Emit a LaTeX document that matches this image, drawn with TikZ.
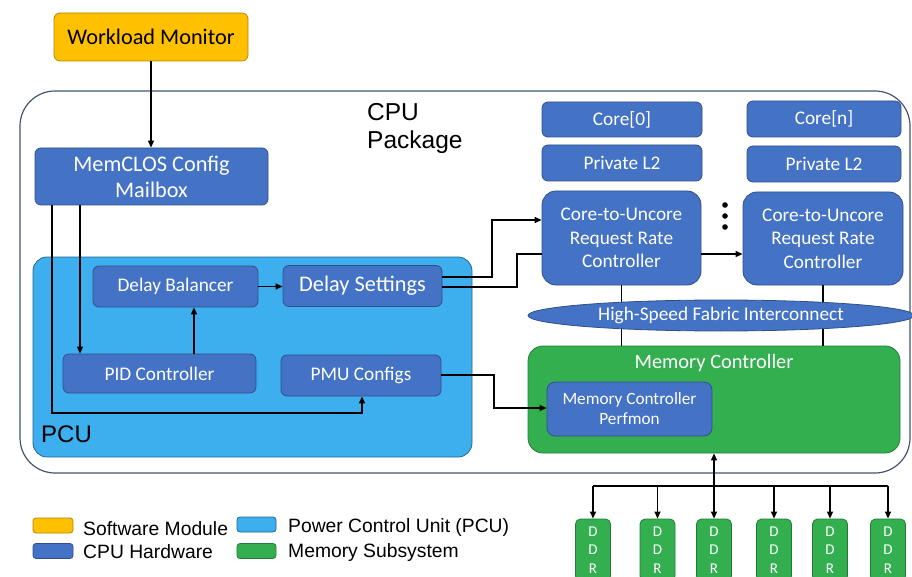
\documentclass[tikz,border=0pt]{standalone}
\usepackage{fontspec}
\setmainfont{Carlito}
\newfontfamily\arialfont{Liberation Sans}
\usetikzlibrary{arrows.meta,shapes.geometric}

\definecolor{logiciel}{HTML}{FFC000}
\definecolor{materiel}{HTML}{4472C4}
\definecolor{bleuclair}{HTML}{3DAEEE}
\definecolor{memoire}{HTML}{33AF50}
\definecolor{cadre}{HTML}{44546A}

\tikzset{bloc/.style={draw=#1!70!black,fill=#1,text=white,rounded corners=6pt,inner sep=0pt,line width=0.8pt},bloc/.default={materiel}}
\tikzset{fleche/.style={line width=1.3pt,-{Triangle[length=7pt,width=6pt]}}}
\tikzset{trait/.style={line width=1.3pt}}

\begin{document}
\begin{tikzpicture}[x=1pt,y=-1pt,
grand/.style={font=\fontsize{22.3}{26}\selectfont},
moyen/.style={font=\fontsize{19.3}{23.5}\selectfont},
legende/.style={anchor=base west,inner sep=0pt,font=\arialfont\fontsize{19.3}{24}\selectfont}]
\useasboundingbox (0,0) rectangle (912,577);

% boitier CPU
\node [draw=cadre,line width=1.2pt,rounded corners=35pt,minimum width=890,minimum height=382] (package) at (465,282) {};
\node [anchor=north west,inner sep=0pt,align=left,font=\arialfont\fontsize{24.5}{28}\selectfont] (titre) at (367,103) {CPU\\Package};

\node [bloc=logiciel,text=black,grand,minimum width=194,minimum height=48] (moniteur) at (151,37) {Workload Monitor};
\node [bloc,grand,align=center,minimum width=233,minimum height=57] (mailbox) at (151.5,176.5) {MemCLOS Config\\Mailbox};

% PCU
\node [draw=bleuclair!60!black,fill=bleuclair,line width=0.8pt,rounded corners=14pt,minimum width=439,minimum height=200] (pcu) at (252.5,357) {};
\node [anchor=base west,inner sep=0pt,font=\arialfont\fontsize{24}{28}\selectfont] (pculabel) at (41,442) {PCU};
\node [bloc,moyen,minimum width=165,minimum height=41] (balancer) at (175.5,286.5) {Delay Balancer};
\node [bloc,grand,minimum width=159,minimum height=41] (settings) at (362.5,286) {Delay Settings};
\node [bloc,moyen,minimum width=193,minimum height=39] (pid) at (159.5,373.5) {PID Controller};
\node [bloc,moyen,minimum width=160,minimum height=41] (pmu) at (361,375.5) {PMU Configs};

% coeurs
\node [bloc,moyen,minimum width=160,minimum height=35] (core0) at (622,119.5) {Core[0]};
\node [bloc,moyen,minimum width=160,minimum height=36] (cache0) at (622,163) {Private L2};
\node [bloc,moyen,align=center,rounded corners=14pt,minimum width=159,minimum height=94] (cu0) at (621.5,238) {Core-to-Uncore\\Request Rate\\Controller};
\node [bloc,moyen,minimum width=154,minimum height=36] (coren) at (824,119) {Core[n]};
\node [bloc,moyen,minimum width=154,minimum height=36] (cachen) at (824,164) {Private L2};
\node [bloc,moyen,align=center,rounded corners=14pt,minimum width=160,minimum height=93] (cun) at (823,238.5) {Core-to-Uncore\\Request Rate\\Controller};
\foreach \y in {205,216,227}
	\fill (725,\y) circle (2.8);

% memoire
\node [bloc=memoire,rounded corners=15pt,minimum width=372,minimum height=107,
	label={[anchor=north,yshift=-5pt,text=white,font=\fontsize{20.4}{24}\selectfont]north:Memory Controller}] (mc) at (714,399.5) {};
\node [bloc,align=center,rounded corners=8pt,font=\fontsize{17.2}{20}\selectfont,minimum width=165,minimum height=54] (perfmon) at (629.5,409) {Memory Controller\\Perfmon};

% liaisons
\draw [fleche] (moniteur.south) -- (moniteur.south |- mailbox.north);
\draw [fleche] (80,0 |- mailbox.south) -- (80,0 |- pid.north);
\draw [fleche] (52,0 |- mailbox.south) -- (52,413) -| (362,0 |- pmu.south);
\draw [fleche] (194,0 |- pid.north) -- (194,0 |- balancer.south);
\draw [fleche] (balancer.east) -- (balancer.east -| settings.west);
\draw [fleche] (settings.east |- 0,277) -| (492,220) -- (cu0.west |- 0,220);
\draw [trait] (settings.east |- 0,287) -| (517,254) -- (cu0.west |- 0,254);
\draw [fleche] (cu0.east |- 0,254) -- (cun.west |- 0,254);
\draw [trait] (cu0.south) -- (cu0.south |- mc.north);
\draw [trait] (cun.south) -- (cun.south |- mc.north);
\draw [fleche] (pmu.east |- 0,375) -| (494,408) -- (perfmon.west |- 0,408);

\node [ellipse,draw=materiel!70!black,fill=materiel,text=white,inner sep=0pt,line width=0.8pt,moyen,minimum width=386,minimum height=31] (fabric) at (721,315.5) {High-Speed Fabric Interconnect};

% DDR
\foreach \i/\x in {1/593,2/657.5,3/714,4/774,5/830,6/888}
	\node [bloc=memoire,rounded corners=5pt,align=center,font=\fontsize{15}{18.5}\selectfont,minimum width=35,minimum height=62] (ddr\i) at (\x,550) {D\\D\\R};
\coordinate (bus) at (714,486);
\draw [trait] (bus -| ddr1) -- (bus -| ddr6);
\foreach \i in {1,...,6}
	\draw [fleche] (bus -| ddr\i) -- (ddr\i.north);
\draw [fleche] (bus) -- (mc.south);

% legende
\node [bloc=logiciel,rounded corners=3pt,minimum width=40,minimum height=15] (leglogiciel) at (53,525.5) {};
\node [legende] (txtlogiciel) at (83,535) {Software Module};
\node [bloc,rounded corners=3pt,minimum width=40,minimum height=15] (legmateriel) at (53,551) {};
\node [legende] (txtmateriel) at (83,558) {CPU Hardware};
\node [draw=bleuclair!60!black,fill=bleuclair,line width=0.8pt,rounded corners=3pt,minimum width=39,minimum height=15] (legpcu) at (256.5,524.5) {};
\node [legende] (txtpcu) at (288,532) {Power Control Unit (PCU)};
\node [bloc=memoire,rounded corners=3pt,minimum width=39,minimum height=15] (legmemoire) at (256.5,551) {};
\node [legende] (txtmemoire) at (288,557) {Memory Subsystem};
\end{tikzpicture}
\end{document}
